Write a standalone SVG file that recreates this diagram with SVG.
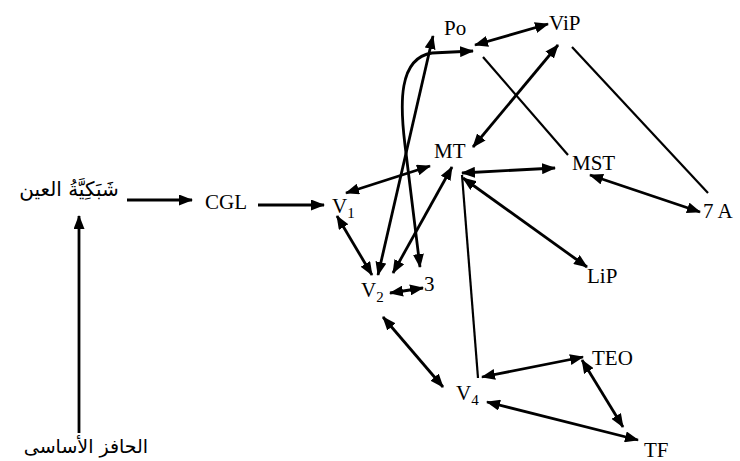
<svg xmlns="http://www.w3.org/2000/svg" width="740" height="461" viewBox="0 0 740 461">
<style>
.lbl{font-family:"Liberation Serif","Times New Roman",serif;font-size:21px;fill:#000}
.sub{font-size:15px}
.ar{font-family:"DejaVu Sans","Noto Sans",sans-serif;fill:#000}
.c{fill:none;stroke:#000;stroke-width:2.8}
.p{fill:none;stroke:#000;stroke-width:2.2}
</style>
<defs>
<marker id="ah" viewBox="0 0 14 11" refX="13" refY="5.5" markerWidth="14" markerHeight="11" markerUnits="userSpaceOnUse" orient="auto-start-reverse">
<path d="M0,0 L14,5.5 L0,11 z" fill="#000"/>
</marker>
</defs>
<rect width="740" height="461" fill="#fff"/>
<g id="connectors">
<line class="c" x1="127" y1="200" x2="192" y2="200" marker-end="url(#ah)"/>
<line class="c" x1="79" y1="433" x2="79" y2="216" marker-end="url(#ah)"/>
<line class="c" x1="258" y1="205" x2="324" y2="205" marker-end="url(#ah)"/>
<line class="c" x1="337" y1="216" x2="372" y2="275" marker-start="url(#ah)" marker-end="url(#ah)"/>
<line class="c" x1="346" y1="193" x2="430" y2="166" marker-start="url(#ah)" marker-end="url(#ah)"/>
<line class="c" x1="378" y1="275" x2="433" y2="36" marker-start="url(#ah)" marker-end="url(#ah)"/>
<line class="c" x1="393" y1="273" x2="452" y2="167" marker-start="url(#ah)" marker-end="url(#ah)"/>
<path class="c" d="M420,267 L405,145 C400,105 398,58 432,53 L473,51" marker-start="url(#ah)" marker-end="url(#ah)"/>
<line class="c" x1="390" y1="293" x2="423" y2="288" marker-start="url(#ah)" marker-end="url(#ah)"/>
<line class="c" x1="475" y1="45" x2="548" y2="24" marker-start="url(#ah)" marker-end="url(#ah)"/>
<line class="p" x1="483" y1="57" x2="568" y2="155"/>
<line class="c" x1="473" y1="147" x2="558" y2="45" marker-start="url(#ah)" marker-end="url(#ah)"/>
<line class="p" x1="572" y1="47" x2="708" y2="193"/>
<line class="c" x1="462" y1="173" x2="555" y2="168" marker-start="url(#ah)" marker-end="url(#ah)"/>
<line class="c" x1="590" y1="175" x2="700" y2="212" marker-start="url(#ah)" marker-end="url(#ah)"/>
<line class="c" x1="463" y1="178" x2="587" y2="267" marker-start="url(#ah)" marker-end="url(#ah)"/>
<line class="p" x1="462" y1="175" x2="478" y2="378"/>
<line class="c" x1="482" y1="377" x2="583" y2="357" marker-start="url(#ah)" marker-end="url(#ah)"/>
<line class="c" x1="383" y1="317" x2="443" y2="387" marker-start="url(#ah)" marker-end="url(#ah)"/>
<line class="c" x1="487" y1="402" x2="638" y2="440" marker-start="url(#ah)" marker-end="url(#ah)"/>
<line class="c" x1="582" y1="360" x2="623" y2="427" marker-start="url(#ah)" marker-end="url(#ah)"/>
</g>
<g id="retina"><text class="ar" x="69" y="196" text-anchor="middle" font-size="20">شَبَكِيَّةُ العين</text></g>
<g id="stimulus"><text class="ar" x="86" y="453" text-anchor="middle" font-size="19">الحافز الأساسى</text></g>
<g id="CGL"><text class="lbl" x="205" y="209">CGL</text></g>
<g id="V1"><text class="lbl" x="332" y="213">V<tspan class="sub" dx="0" dy="5">1</tspan></text></g>
<g id="V2"><text class="lbl" x="361" y="297">V<tspan class="sub" dx="0" dy="5">2</tspan></text></g>
<g id="n3"><text class="lbl" x="424" y="291">3</text></g>
<g id="V4"><text class="lbl" x="456" y="400">V<tspan class="sub" dx="0" dy="5">4</tspan></text></g>
<g id="Po"><text class="lbl" x="444" y="35">Po</text></g>
<g id="ViP"><text class="lbl" x="549" y="30">ViP</text></g>
<g id="MT"><text class="lbl" x="434" y="158">MT</text></g>
<g id="MST"><text class="lbl" x="572" y="170">MST</text></g>
<g id="A7"><text class="lbl" x="703" y="218">7 A</text></g>
<g id="LiP"><text class="lbl" x="587" y="283">LiP</text></g>
<g id="TEO"><text class="lbl" x="592" y="365">TEO</text></g>
<g id="TF"><text class="lbl" x="644" y="457">TF</text></g>
</svg>
